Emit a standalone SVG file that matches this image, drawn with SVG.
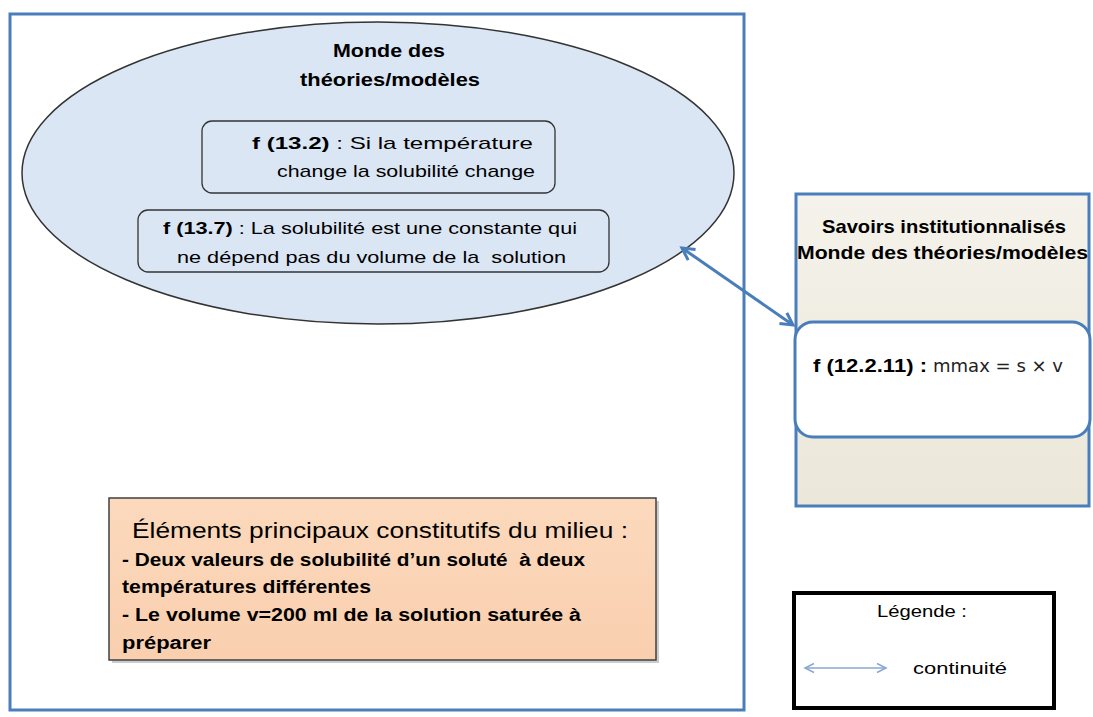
<svg xmlns="http://www.w3.org/2000/svg" width="1093" height="717" viewBox="0 0 1093 717">
<defs>
<style>
.t{font-family:"Liberation Sans",Arial,sans-serif;fill:#000}
.b{font-weight:bold}
.pre{white-space:pre}
.blue{fill:none;stroke:#4a7ebb;stroke-width:3}
.inbox{fill:none;stroke:#333;stroke-width:1.3}
</style>
<linearGradient id="beige" x1="0" y1="0" x2="0" y2="1">
<stop offset="0" stop-color="#f4f2ea"/>
<stop offset="1" stop-color="#ebe8da"/>
</linearGradient>
<linearGradient id="peach" x1="0" y1="0" x2="0" y2="1">
<stop offset="0" stop-color="#fcd9bd"/>
<stop offset="1" stop-color="#f9cfae"/>
</linearGradient>
<marker id="ah" markerUnits="userSpaceOnUse" markerWidth="20" markerHeight="20" refX="14" refY="8" orient="auto-start-reverse">
<path d="M2,1.5 L14,8 L2,14.5" fill="none" stroke="#4a7ebb" stroke-width="3"/>
</marker>
<marker id="ahl" markerUnits="userSpaceOnUse" markerWidth="14" markerHeight="14" refX="10" refY="6" orient="auto-start-reverse">
<path d="M1,1.5 L10,6 L1,10.5" fill="none" stroke="#8aa6d4" stroke-width="1.5"/>
</marker>
</defs>
<rect x="0" y="0" width="1093" height="717" fill="#fff"/>

<g id="milieu-frame">
<rect class="blue" x="10" y="14" width="734" height="696"/>
</g>

<g id="monde-theories">
<ellipse cx="378" cy="173" rx="356" ry="151" fill="#dae6f4" stroke="#333" stroke-width="1.5"/>
<text class="t b" x="333" y="57" font-size="18" textLength="112" lengthAdjust="spacingAndGlyphs">Monde des</text>
<text class="t b" x="300" y="86" font-size="18" textLength="180" lengthAdjust="spacingAndGlyphs">théories/modèles</text>
</g>

<g id="f13-2">
<rect class="inbox" x="202" y="121" width="353" height="72" rx="10"/>
<text class="t" x="252" y="149" font-size="17" textLength="281" lengthAdjust="spacingAndGlyphs"><tspan class="b">f (13.2)</tspan> : Si la température</text>
<text class="t" x="277" y="177" font-size="17" textLength="258" lengthAdjust="spacingAndGlyphs">change la solubilité change</text>
</g>

<g id="f13-7">
<rect class="inbox" x="138" y="210" width="471" height="62" rx="10"/>
<text class="t" x="163" y="234" font-size="17" textLength="414" lengthAdjust="spacingAndGlyphs"><tspan class="b">f (13.7)</tspan> : La solubilité est une constante qui</text>
<text class="t pre" x="177" y="263" font-size="17" textLength="389" lengthAdjust="spacingAndGlyphs">ne dépend pas du volume de la  solution</text>
</g>

<g id="savoirs">
<rect x="796" y="194" width="293" height="312" fill="url(#beige)" stroke="#4a7ebb" stroke-width="3"/>
<text class="t b" x="822" y="233" font-size="19" textLength="244" lengthAdjust="spacingAndGlyphs">Savoirs institutionnalisés</text>
<text class="t b" x="797" y="259" font-size="19" textLength="291" lengthAdjust="spacingAndGlyphs">Monde des théories/modèles</text>
</g>

<g id="f12-2-11">
<rect x="795" y="322" width="295" height="115" rx="18" fill="#fff" stroke="#4a7ebb" stroke-width="3"/>
<text class="t b" x="813" y="372" font-size="19" textLength="114" lengthAdjust="spacingAndGlyphs">f (12.2.11) :</text>
<text x="933" y="372" font-family="DejaVu Sans, sans-serif" font-size="17" fill="#222" textLength="130" lengthAdjust="spacingAndGlyphs">mmax = s × v</text>
</g>

<g id="elements-milieu">
<rect x="112" y="501" width="547" height="162" fill="#9a9a9a" opacity="0.5"/>
<rect x="109" y="498" width="547" height="162" fill="url(#peach)" stroke="#404040" stroke-width="1.5"/>
<text class="t" x="132" y="538" font-size="22" textLength="496" lengthAdjust="spacingAndGlyphs">Éléments principaux constitutifs du milieu :</text>
<text class="t b pre" x="122" y="566" font-size="18" textLength="463" lengthAdjust="spacingAndGlyphs">- Deux valeurs de solubilité d’un soluté  à deux</text>
<text class="t b" x="122" y="593" font-size="18" textLength="249" lengthAdjust="spacingAndGlyphs">températures différentes</text>
<text class="t b" x="122" y="621" font-size="18" textLength="459" lengthAdjust="spacingAndGlyphs">- Le volume v=200 ml de la solution saturée à</text>
<text class="t b" x="122" y="649" font-size="18" textLength="89" lengthAdjust="spacingAndGlyphs">préparer</text>
</g>

<g id="legende">
<rect x="794" y="593" width="260" height="115" fill="#fff" stroke="#000" stroke-width="4"/>
<text class="t" x="877" y="617" font-size="17" textLength="90" lengthAdjust="spacingAndGlyphs">Légende :</text>
<line x1="805" y1="668" x2="886" y2="668" stroke="#8aa6d4" stroke-width="1.5" marker-start="url(#ahl)" marker-end="url(#ahl)"/>
<text class="t" x="913" y="674" font-size="17" textLength="94" lengthAdjust="spacingAndGlyphs">continuité</text>
</g>

<g id="connectors">
<line x1="682" y1="248" x2="793" y2="325" stroke="#4a7ebb" stroke-width="3" marker-start="url(#ah)" marker-end="url(#ah)"/>
</g>
</svg>
